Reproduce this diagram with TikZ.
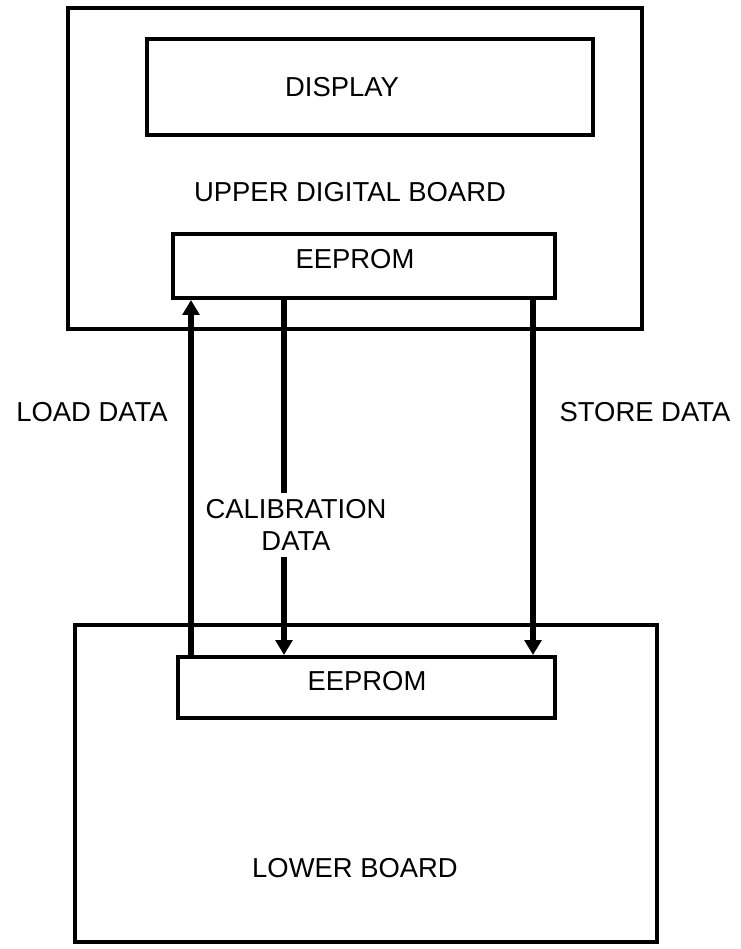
\documentclass[tikz,border=0pt]{standalone}
\usepackage{fontspec}
\setmainfont{Liberation Sans}
\usetikzlibrary{arrows.meta}
\begin{document}
\begin{tikzpicture}[>={Triangle[width=9.5pt,length=8.5pt]},
  box/.style={draw, line width=2.3pt, inner sep=0pt},
  lbl/.style={font=\fontsize{15.6}{18}\selectfont, align=center},
  arr/.style={line width=3pt}]
\useasboundingbox (0,0) rectangle (14.82,-18.98);
% boards
\node[box, minimum width=11.48cm, minimum height=6.42cm] (UB) at (7.10,-3.37) {};
\node[box, minimum width=8.92cm, minimum height=1.92cm] (disp) at (7.40,-1.74) {};
\node[box, minimum width=7.64cm, minimum height=1.28cm] (uee) at (7.28,-5.32) {};
\node[box, minimum width=11.64cm, minimum height=6.34cm] (LB) at (7.32,-15.67) {};
\node[box, minimum width=7.54cm, minimum height=1.22cm] (lee) at (7.33,-13.75) {};
% texts
\node[lbl] (tdisp) at (6.84,-1.74) {DISPLAY};
\node[lbl] (tub) at (7.00,-3.84) {UPPER DIGITAL BOARD};
\node[lbl] (tuee) at (7.10,-5.18) {EEPROM};
\node[lbl] (tlee) at (7.34,-13.62) {EEPROM};
\node[lbl] (tlb) at (7.10,-17.36) {LOWER BOARD};
\node[lbl] (load) at (1.84,-8.24) {LOAD DATA};
\node[lbl] (store) at (12.90,-8.24) {STORE DATA};
\node[lbl] (cal) at (5.92,-10.50) {CALIBRATION\\DATA};
% data paths
\coordinate (ld) at (3.82,0);
\coordinate (cd) at (5.68,0);
\coordinate (sd) at (10.66,0);
\draw[arr,->] (lee.north -| ld) -- (uee.south -| ld);
\draw[arr] (uee.south -| cd) -- (cal.north -| cd);
\draw[arr,->] (cal.south -| cd) -- (lee.north -| cd);
\draw[arr,->] (uee.south -| sd) -- (lee.north -| sd);
\end{tikzpicture}
\end{document}
